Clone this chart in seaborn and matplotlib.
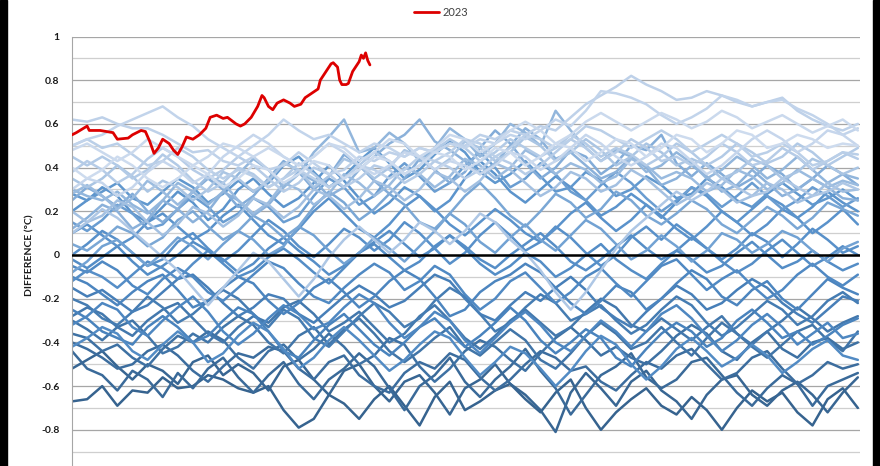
import numpy as np
import pandas as pd
import seaborn as sns
import matplotlib.pyplot as plt
from matplotlib.colors import LinearSegmentedColormap
from matplotlib.patches import Rectangle

# Dias do ano (amostra semanal) para os anos anteriores
days = list(range(1, 366, 7))

# Diferenças em centésimos de °C, uma lista por ano
y1985 = [-67, -66, -60, -69, -62, -63, -56, -61, -60, -55, -57, -61, -63, -60, -71, -79, -75, -64, -68, -75,
         -66, -60, -69, -78, -65, -58, -71, -67, -62, -59, -66, -72, -63, -57, -70, -80, -72, -66, -61, -69,
         -73, -65, -71, -80, -70, -62, -67, -63, -72, -78, -66, -61, -70]
y1986 = [-52, -48, -44, -51, -57, -50, -53, -59, -49, -46, -55, -50, -54, -62, -51, -48, -57, -64, -53, -50,
         -60, -67, -58, -55, -63, -73, -61, -57, -50, -59, -64, -71, -81, -63, -54, -61, -69, -58, -53, -62,
         -67, -75, -64, -57, -55, -64, -69, -62, -58, -64, -72, -63, -56]
y1987 = [-44, -52, -55, -62, -53, -57, -65, -54, -61, -52, -47, -56, -63, -55, -49, -59, -66, -57, -52, -45,
         -51, -61, -71, -60, -55, -47, -58, -65, -57, -51, -43, -53, -61, -73, -64, -55, -51, -45, -56, -61,
         -57, -49, -47, -55, -63, -69, -61, -55, -59, -69, -60, -57, -54]
y1988 = [-40, -43, -47, -52, -50, -44, -41, -46, -53, -58, -51, -45, -47, -42, -44, -52, -57, -49, -46, -55,
         -60, -63, -54, -49, -52, -45, -48, -56, -62, -57, -50, -44, -47, -53, -51, -58, -62, -55, -49, -52,
         -46, -43, -50, -57, -54, -47, -44, -52, -59, -55, -49, -52, -50]
y1989 = [-36, -38, -44, -41, -47, -51, -43, -37, -40, -35, -39, -47, -52, -44, -41, -48, -43, -36, -42, -50,
         -46, -38, -41, -51, -58, -52, -44, -39, -42, -48, -53, -45, -38, -33, -39, -46, -42, -47, -50, -44,
         -37, -32, -36, -44, -48, -40, -35, -43, -47, -40, -38, -43, -40]
y1990 = [-30, -34, -39, -33, -30, -37, -45, -42, -36, -40, -33, -28, -32, -40, -45, -37, -33, -41, -34, -29,
         -36, -44, -49, -44, -38, -33, -42, -46, -40, -34, -39, -48, -52, -45, -37, -31, -36, -43, -40, -33,
         -40, -46, -38, -31, -36, -42, -47, -41, -35, -32, -39, -44, -35]
y1991 = [-28, -24, -27, -33, -37, -30, -25, -22, -29, -36, -40, -33, -28, -31, -24, -21, -27, -35, -31, -26,
         -33, -40, -36, -28, -23, -30, -38, -43, -37, -30, -25, -31, -37, -33, -26, -20, -24, -32, -35, -29,
         -34, -39, -33, -28, -36, -41, -35, -30, -24, -29, -35, -31, -28]
y1992 = [-20, -23, -29, -32, -26, -19, -24, -31, -27, -21, -16, -20, -27, -33, -25, -29, -38, -42, -35, -28,
         -22, -26, -33, -29, -21, -15, -19, -27, -35, -31, -24, -18, -22, -30, -27, -23, -30, -36, -32, -25,
         -19, -23, -31, -37, -33, -27, -21, -25, -32, -28, -21, -17, -22]
y1993 = [-15, -19, -16, -21, -26, -23, -17, -11, -9, -15, -22, -28, -24, -18, -20, -27, -31, -25, -19, -14,
         -18, -24, -21, -15, -9, -12, -20, -27, -30, -23, -17, -21, -15, -10, -16, -24, -29, -33, -26, -20,
         -14, -18, -25, -22, -16, -11, -15, -22, -27, -31, -25, -19, -21]
y1994 = [-25, -29, -35, -38, -41, -33, -28, -33, -40, -37, -30, -24, -27, -35, -44, -47, -39, -32, -27, -34,
         -41, -46, -40, -33, -29, -36, -42, -37, -31, -24, -30, -39, -45, -40, -34, -38, -47, -51, -43, -36,
         -31, -35, -42, -38, -30, -25, -31, -38, -35, -41, -37, -32, -29]
y1995 = [-10, -13, -18, -23, -17, -12, -9, -16, -24, -21, -15, -10, -13, -21, -27, -22, -15, -11, -17, -24,
         -19, -12, -7, -11, -19, -28, -25, -17, -12, -9, -4, -8, -15, -22, -27, -21, -14, -17, -25, -20,
         -13, -7, -11, -19, -23, -16, -12, -20, -25, -18, -11, -15, -18]
y1996 = [-32, -28, -22, -25, -33, -37, -30, -24, -19, -26, -35, -41, -36, -29, -23, -27, -34, -31, -24, -18,
         -22, -31, -38, -33, -26, -30, -39, -45, -38, -31, -26, -32, -40, -44, -37, -30, -35, -42, -35, -27,
         -23, -29, -37, -44, -39, -32, -27, -33, -41, -36, -31, -38, -36]
y1997 = [-5, -8, -3, -7, -14, -18, -11, -6, -10, -17, -21, -15, -9, -3, -6, -13, -19, -22, -15, -9,
         -4, -8, -16, -12, -5, -9, -18, -25, -20, -12, -8, -15, -22, -17, -10, -6, -13, -19, -12, -5,
         -2, -9, -16, -11, -7, -14, -20, -16, -9, -4, -10, -14, -9]
y1998 = [-42, -38, -33, -36, -44, -48, -41, -35, -40, -49, -45, -37, -31, -35, -43, -52, -47, -39, -33, -39,
         -46, -53, -48, -41, -35, -38, -47, -55, -49, -42, -45, -52, -60, -53, -44, -37, -41, -50, -57, -51,
         -43, -38, -44, -51, -47, -41, -46, -54, -49, -43, -39, -46, -48]
y1999 = [-2, -6, -1, 4, -3, -9, -5, 0, 6, 2, -4, -10, -7, -1, 3, -2, -8, -13, -6, 1,
         5, -1, -7, -3, 4, 9, 3, -4, -9, -5, 1, -3, -10, -6, 0, 5, -2, -7, -11, -4,
         2, -2, -8, -5, 1, 6, 0, -6, -3, 2, -3, -7, -4]
y2000 = [-12, -7, -10, -15, -9, -3, -6, -11, -4, 2, -2, -8, -4, 3, 8, 2, -3, -9, -5, 1,
         6, 11, 5, -1, 3, 9, 4, -2, -6, 0, 5, 10, 4, -3, -7, -2, 4, 9, 3, -2,
         2, 8, 3, -3, -8, -4, 2, 7, 1, -5, -1, 4, 0]
y2001 = [0, 5, 11, 7, 1, -5, -2, 6, 10, 3, -3, 2, 9, 16, 11, 4, -1, 5, 12, 8,
         2, 7, 15, 10, 3, -4, 1, 9, 15, 9, 2, 6, 13, 8, 1, -5, 0, 8, 13, 7,
         14, 9, 3, -2, 3, 10, 6, -1, 5, 12, 7, 1, 4]
y2002 = [10, 14, 9, 4, 8, 15, 19, 13, 7, 11, 18, 23, 16, 9, 5, 12, 20, 26, 19, 12,
         8, 14, 22, 27, 21, 14, 9, 15, 21, 16, 10, 6, 12, 19, 24, 17, 11, 16, 23, 18,
         12, 7, 13, 20, 15, 9, 14, 21, 17, 10, 15, 21, 14]
y2003 = [20, 25, 31, 27, 19, 15, 22, 29, 24, 16, 21, 30, 35, 28, 22, 26, 33, 41, 34, 26,
         19, 24, 31, 27, 20, 25, 35, 43, 37, 29, 24, 30, 36, 31, 25, 18, 22, 28, 23, 17,
         24, 31, 27, 20, 15, 21, 27, 23, 17, 22, 29, 24, 20]
y2004 = [28, 25, 29, 33, 26, 23, 29, 35, 31, 24, 28, 34, 29, 33, 41, 45, 38, 31, 36, 43,
         49, 42, 35, 39, 46, 52, 47, 38, 33, 37, 43, 36, 29, 31, 38, 34, 27, 30, 36, 32,
         26, 28, 35, 31, 25, 22, 28, 33, 28, 23, 26, 30, 25]
y2005 = [15, 11, 16, 23, 19, 12, 14, 21, 27, 22, 15, 19, 26, 22, 15, 18, 27, 35, 31, 23,
         27, 36, 42, 36, 29, 33, 41, 47, 40, 31, 35, 42, 37, 29, 25, 32, 38, 33, 26, 20,
         25, 31, 28, 22, 27, 33, 27, 21, 25, 31, 27, 22, 26]
y2006 = [-8, -3, 4, 7, 1, -5, 1, 8, 4, -2, 5, 11, 7, 0, 4, 13, 9, 2, -4, 1,
         8, 3, -3, 4, 11, 19, 14, 6, 1, 8, 14, 7, 2, 9, 16, 12, 5, -2, 2, 9,
         4, -3, 2, 10, 7, 1, 5, 11, 8, 2, -3, 3, 6]
y2007 = [5, 2, 7, 13, 10, 4, 8, 16, 20, 13, 7, 11, 18, 14, 8, 13, 22, 29, 24, 16,
         21, 28, 23, 15, 12, 19, 27, 33, 26, 18, 13, 20, 28, 24, 17, 21, 29, 25, 18, 14,
         19, 25, 21, 14, 10, 16, 22, 18, 12, 17, 24, 21, 18]
y2008 = [25, 31, 27, 22, 28, 20, 15, 21, 29, 35, 30, 22, 27, 35, 43, 38, 30, 36, 46, 41,
         34, 28, 35, 44, 39, 33, 38, 49, 57, 51, 42, 35, 40, 48, 45, 37, 42, 50, 48, 55,
         42, 36, 42, 37, 31, 35, 41, 37, 30, 35, 41, 37, 32]
y2009 = [12, 17, 23, 20, 12, 16, 25, 21, 15, 20, 29, 25, 18, 23, 31, 38, 34, 27, 31, 39,
         45, 51, 55, 62, 52, 48, 43, 37, 42, 50, 58, 53, 44, 47, 41, 35, 38, 45, 40, 32,
         35, 41, 36, 29, 32, 39, 33, 27, 30, 35, 31, 26, 25]
y2010 = [30, 27, 25, 29, 23, 19, 25, 33, 29, 23, 29, 37, 44, 39, 31, 37, 47, 54, 62, 47,
         49, 56, 51, 43, 49, 58, 53, 45, 51, 60, 56, 50, 66, 57, 49, 43, 48, 45, 38, 41,
         47, 42, 35, 39, 45, 41, 35, 39, 45, 39, 33, 37, 35]
y2011 = [28, 32, 27, 21, 26, 34, 29, 23, 29, 36, 33, 25, 19, 24, 33, 30, 23, 28, 37, 33,
         27, 32, 40, 37, 31, 36, 44, 41, 35, 40, 48, 44, 37, 42, 39, 33, 36, 44, 41, 35,
         38, 35, 29, 32, 39, 36, 30, 33, 39, 35, 31, 34, 32]
y2012 = [20, 15, 18, 25, 22, 15, 9, 14, 22, 19, 13, 18, 26, 23, 17, 22, 30, 27, 21, 26,
         34, 31, 25, 30, 38, 35, 29, 34, 42, 39, 33, 27, 31, 38, 35, 29, 32, 39, 35, 29,
         23, 27, 33, 30, 24, 27, 33, 30, 24, 27, 33, 29, 30]
y2013 = [35, 31, 35, 41, 36, 29, 34, 31, 25, 30, 38, 35, 29, 34, 42, 39, 31, 36, 44, 41,
         35, 40, 48, 45, 39, 44, 52, 49, 43, 47, 54, 50, 43, 47, 53, 48, 41, 45, 51, 47,
         41, 44, 41, 35, 38, 44, 41, 35, 38, 44, 41, 37, 40]
y2014 = [10, 15, 21, 17, 11, 5, -1, -7, -15, -23, -15, -7, 1, -3, -11, -19, -11, -1, 7, 13,
         7, 1, 7, 15, 11, 5, 11, 19, 15, 7, 1, -7, -17, -25, -17, -7, 3, 11, 17, 23,
         29, 25, 29, 35, 31, 27, 29, 35, 31, 27, 29, 33, 30]
y2015 = [45, 41, 45, 41, 35, 39, 46, 41, 34, 29, 33, 40, 37, 31, 35, 42, 37, 31, 35, 41,
         47, 43, 37, 41, 48, 53, 49, 43, 47, 53, 49, 45, 49, 55, 51, 45, 49, 46, 41, 45,
         51, 47, 41, 45, 51, 47, 42, 45, 51, 47, 41, 45, 49]
y2016 = [38, 43, 39, 33, 37, 44, 49, 45, 39, 35, 39, 45, 41, 35, 29, 33, 40, 37, 31, 35,
         41, 39, 33, 37, 43, 40, 35, 39, 45, 42, 37, 41, 47, 53, 49, 43, 47, 53, 49, 43,
         45, 41, 45, 51, 47, 41, 43, 49, 45, 39, 43, 47, 44]
y2017 = [50, 53, 49, 51, 46, 41, 43, 49, 45, 39, 35, 39, 36, 31, 35, 39, 35, 31, 35, 41,
         39, 35, 39, 45, 43, 47, 53, 51, 45, 49, 55, 53, 49, 53, 59, 57, 53, 49, 53, 57,
         53, 47, 51, 55, 51, 45, 47, 51, 47, 41, 43, 47, 46]
y2018 = [62, 61, 63, 60, 58, 58, 55, 51, 47, 48, 43, 41, 45, 39, 41, 47, 42, 37, 39, 45,
         43, 47, 45, 49, 47, 51, 50, 55, 53, 57, 55, 59, 57, 63, 69, 73, 77, 82, 78, 75,
         71, 72, 75, 73, 70, 68, 70, 72, 66, 62, 59, 57, 60]
y2019 = [50, 53, 55, 59, 62, 65, 68, 63, 59, 53, 49, 45, 50, 55, 62, 57, 53, 55, 51, 47,
         51, 49, 45, 49, 47, 51, 49, 53, 51, 55, 53, 57, 62, 59, 66, 75, 74, 72, 69, 64,
         60, 63, 67, 73, 71, 68, 70, 71, 67, 64, 60, 55, 58]
y2020 = [30, 35, 33, 27, 31, 38, 43, 39, 33, 37, 45, 50, 55, 51, 45, 41, 45, 51, 47, 41,
         37, 41, 47, 45, 39, 43, 41, 37, 41, 47, 45, 39, 43, 49, 55, 51, 45, 41, 45, 51,
         49, 43, 37, 41, 47, 53, 57, 53, 47, 51, 57, 55, 50]
y2021 = [48, 51, 47, 43, 47, 53, 49, 45, 41, 45, 51, 49, 45, 49, 45, 41, 45, 51, 49, 43,
         47, 53, 51, 45, 49, 55, 53, 47, 51, 57, 61, 57, 51, 55, 61, 65, 61, 57, 61, 65,
         62, 58, 61, 66, 63, 58, 61, 64, 60, 56, 59, 62, 57]
y2022 = [40, 35, 39, 45, 41, 35, 31, 35, 41, 37, 31, 35, 41, 39, 33, 37, 43, 41, 35, 39,
         45, 43, 37, 41, 47, 45, 39, 43, 49, 47, 41, 45, 51, 49, 43, 47, 53, 51, 45, 49,
         55, 53, 47, 51, 57, 55, 49, 51, 55, 53, 49, 51, 50]

years = list(range(1985, 2023))
series = [y1985, y1986, y1987, y1988, y1989, y1990, y1991, y1992, y1993, y1994,
          y1995, y1996, y1997, y1998, y1999, y2000, y2001, y2002, y2003, y2004,
          y2005, y2006, y2007, y2008, y2009, y2010, y2011, y2012, y2013, y2014,
          y2015, y2016, y2017, y2018, y2019, y2020, y2021, y2022]

# 2023 (até meados de maio)
days_2023 = [1, 3, 8, 9, 14, 17, 20, 22, 27, 29, 33, 35, 37, 39, 41, 43, 46, 48, 50, 52,
             54, 57, 60, 63, 65, 68, 71, 73, 77, 79, 81, 84, 87, 89, 90, 92, 94, 96, 99, 102,
             104, 107, 109, 112, 115, 116, 118, 121, 122, 124, 125, 126, 128, 129, 131, 134, 135, 136, 137, 138,
             139]
vals_2023 = [0.55, 0.56, 0.59, 0.57, 0.57, 0.565, 0.56, 0.53, 0.535, 0.55, 0.57, 0.565, 0.52, 0.465, 0.49, 0.53, 0.51, 0.48, 0.46, 0.495,
             0.54, 0.53, 0.55, 0.58, 0.63, 0.64, 0.625, 0.63, 0.60, 0.59, 0.60, 0.63, 0.68, 0.73, 0.72, 0.68, 0.665, 0.695, 0.71, 0.695,
             0.68, 0.69, 0.72, 0.74, 0.76, 0.80, 0.83, 0.875, 0.88, 0.86, 0.80, 0.78, 0.78, 0.785, 0.84, 0.885, 0.915, 0.90, 0.925, 0.89,
             0.87]

ytick_vals = [-0.8, -0.6, -0.4, -0.2, 0, 0.2, 0.4, 0.6, 0.8, 1]
ytick_labels = ['-0.8', '-0.6', '-0.4', '-0.2', '0', '0.2', '0.4', '0.6', '0.8', '1']

sns.set_style("white")
plt.rcParams['font.family'] = ['Lato', 'DejaVu Sans']

rows = []
for yr, vals in zip(years, series):
    for d, v in zip(days, vals):
        rows.append((str(yr), d, v / 100))
df = pd.DataFrame(rows, columns=['ano', 'dia', 'diferenca'])

# Mais antigo = azul escuro, mais recente = azul claro
ramp = LinearSegmentedColormap.from_list('ramp', ['#36638f', '#4a84be', '#5d95cd', '#a9c4e3', '#cddbee'])
palette = {str(yr): ramp(i / (len(years) - 1)) for i, yr in enumerate(years)}

fig = plt.figure(figsize=(8.8, 4.66), dpi=100)
ax = fig.add_axes([72 / 880, -7.5 / 466, 788 / 880, 437 / 466])

sns.lineplot(data=df, x='dia', y='diferenca', hue='ano', palette=palette, estimator=None,
             sort=False, lw=1.8, legend=False, ax=ax)
ax.axhline(0, color='black', lw=1.8, zorder=5)
sns.lineplot(x=days_2023, y=vals_2023, color='#dd0000', lw=2.0, label='2023', ax=ax, zorder=6)

handles, labels = ax.get_legend_handles_labels()
if ax.get_legend() is not None:
    ax.get_legend().remove()
fig.legend(handles, labels, loc='center', bbox_to_anchor=(441 / 880, 1 - 12 / 466), frameon=False,
           handlelength=2.2, handletextpad=0.3, fontsize=8, labelcolor='#404040')

ax.set_xlim(1, 366)
ax.set_ylim(-1, 1)
ax.set_xticks([])
ax.set_yticks(ytick_vals)
ax.set_yticklabels(ytick_labels)
ax.set_yticks(np.arange(-0.9, 1.0, 0.2), minor=True)
ax.tick_params(axis='y', which='both', length=0, pad=9, labelsize=7.5, labelcolor='#1a1a1a')
for lab in ax.get_yticklabels():
    lab.set_fontweight('bold')
ax.set_axisbelow(True)
ax.grid(axis='y', which='major', color='#a6a6a6', lw=0.9)
ax.grid(axis='y', which='minor', color='#cfcfcf', lw=0.9)
ax.set_xlabel('')
ax.set_ylabel('DIFFERENCE (°C)', fontsize=7.5, fontweight='bold', color='#1a1a1a')
ax.yaxis.set_label_coords(-0.048, 0.5)
for side in ['top', 'right', 'bottom']:
    ax.spines[side].set_visible(False)
ax.spines['left'].set_color('#a6a6a6')

# Bordas pretas da captura original
fig.add_artist(Rectangle((0, 0), 7 / 880, 1, transform=fig.transFigure, color='black'))
fig.add_artist(Rectangle((873 / 880, 0), 7 / 880, 1, transform=fig.transFigure, color='black'))

fig.savefig('out.png', dpi=100)
